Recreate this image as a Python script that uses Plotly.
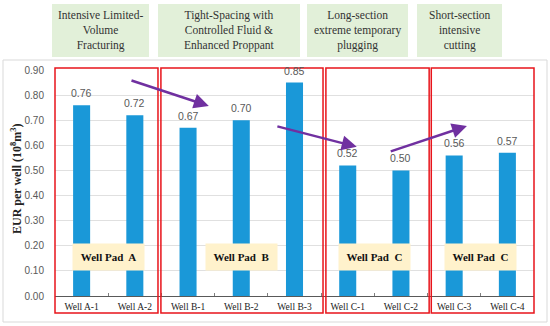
import plotly.graph_objects as go

wells = ["Well A-1", "Well A-2", "Well B-1", "Well B-2", "Well B-3",
         "Well C-1", "Well C-2", "Well C-3", "Well C-4"]
eur = [0.76, 0.72, 0.67, 0.70, 0.85, 0.52, 0.50, 0.56, 0.57]
eur_labels = ["0.76", "0.72", "0.67", "0.70", "0.85", "0.52", "0.50", "0.56", "0.57"]
y_ticks = [0.0, 0.1, 0.2, 0.3, 0.4, 0.5, 0.6, 0.7, 0.8, 0.9]
y_tick_labels = ["0.00", "0.10", "0.20", "0.30", "0.40", "0.50", "0.60", "0.70", "0.80", "0.90"]
method_titles = ["Intensive Limited-<br>Volume<br>Fracturing",
                 "Tight-Spacing with<br>Controlled Fluid &<br>Enhanced Proppant",
                 "Long-section<br>extreme temporary<br>plugging",
                 "Short-section<br>intensive<br>cutting"]
pad_labels = ["Well Pad  A", "Well Pad  B", "Well Pad  C", "Well Pad  C"]

W, H = 550, 326
L, R, T, B = 55, 534, 70, 296
def px(x):
    return (x - L) / (R - L)
def py(y):
    return (B - y) / (B - T)
def cx(c):
    return (c + 0.5) / len(wells)

fig = go.Figure()
fig.add_trace(go.Bar(
    x=wells, y=eur,
    marker=dict(color="#1A98D8", line=dict(width=0)),
    width=0.32, hoverinfo="skip",
))

shapes = []
annotations = []

# value labels above bars
for w, v, t in zip(wells, eur, eur_labels):
    annotations.append(dict(xref="x", yref="y", x=w, y=v, text=t, showarrow=False,
                            yshift=12, xanchor="center", yanchor="middle",
                            font=dict(family="Liberation Sans, Arial", size=10.5, color="#595959")))

# outer light frame
shapes.append(dict(type="rect", xref="paper", yref="paper",
                   x0=px(3), x1=px(547), y0=py(322), y1=py(60),
                   line=dict(color="#D9D9D9", width=1), layer="below"))

# header green boxes
hdr = [(52, 149), (158, 300), (307, 408), (417, 502)]
for (a, b), t in zip(hdr, method_titles):
    shapes.append(dict(type="rect", xref="paper", yref="paper",
                       x0=px(a), x1=px(b), y0=py(57), y1=py(4),
                       fillcolor="#E2F0D9", line=dict(width=0)))
    annotations.append(dict(xref="paper", yref="paper", x=px((a + b) / 2), y=py(30.5),
                            text=t, showarrow=False, xanchor="center", yanchor="middle",
                            font=dict(family="Liberation Serif, Times New Roman, serif", size=11.5, color="#333333")))

# red group boxes (category units)
groups = [(-0.5, 1.435), (1.49, 4.536), (4.59, 6.53), (6.57, 8.5)]
for a, b in groups:
    shapes.append(dict(type="rect", xref="paper", yref="paper",
                       x0=cx(a), x1=cx(b), y0=py(313), y1=py(68),
                       line=dict(color="#E8141B", width=1.5), layer="above"))

# well pad labels
pad_pos = [0.5, 3.0, 5.5, 7.5]
for c, t in zip(pad_pos, pad_labels):
    annotations.append(dict(xref="x", yref="y", x=c, y=0.155, text="<b>" + t + "</b>",
                            showarrow=False, bgcolor="#FFF2CC", width=65, height=20, borderpad=3,
                            xanchor="center", yanchor="middle",
                            font=dict(family="Liberation Serif, Times New Roman, serif", size=11, color="#111111")))

# purple arrows (tail -> head in data units)
arrows = [((0.909, 0.860), (2.39, 0.757)),
          ((3.65, 0.677), (5.17, 0.594)),
          ((5.78, 0.574), (7.24, 0.677))]
for (x0, y0), (x1, y1) in arrows:
    annotations.append(dict(xref="x", yref="y", axref="x", ayref="y",
                            x=x1, y=y1, ax=x0, ay=y0, text="", showarrow=True,
                            arrowhead=2, arrowsize=1.2, arrowwidth=2.5, arrowcolor="#7030A0"))

# y-axis title
annotations.append(dict(xref="paper", yref="paper", x=px(16), y=py(179), textangle=-90,
                        xanchor="center", yanchor="middle",
                        text="<b>EUR per well (10<sup>8</sup>m<sup>3</sup>)</b>", showarrow=False,
                        font=dict(family="Liberation Serif, Times New Roman, serif", size=12, color="#222222")))

fig.update_layout(
    width=W, height=H, margin=dict(l=L, r=W - R, t=T, b=H - B, autoexpand=False),
    paper_bgcolor="white", plot_bgcolor="white", showlegend=False,
    shapes=shapes, annotations=annotations,
    xaxis=dict(range=[-0.5, 8.5], showgrid=False, showline=True, linecolor="#595959", linewidth=1,
               ticks="inside", tickson="boundaries", ticklen=3, tickcolor="#7F7F7F",
               automargin=False, ticklabelstandoff=2,
               tickfont=dict(family="Liberation Serif, Times New Roman, serif", size=9.5, color="#222222")),
    yaxis=dict(range=[0, 0.9], tickvals=y_ticks, ticktext=y_tick_labels, showgrid=True,
               gridcolor="#E0E0E0", gridwidth=1, zeroline=False, showline=False, ticks="",
               ticklabelstandoff=10, automargin=False,
               tickfont=dict(family="Liberation Sans, Arial", size=10, color="#595959")),
)

fig.write_html("out.html", config={"displayModeBar": False},
               post_script="document.body.style.margin='0px';")
